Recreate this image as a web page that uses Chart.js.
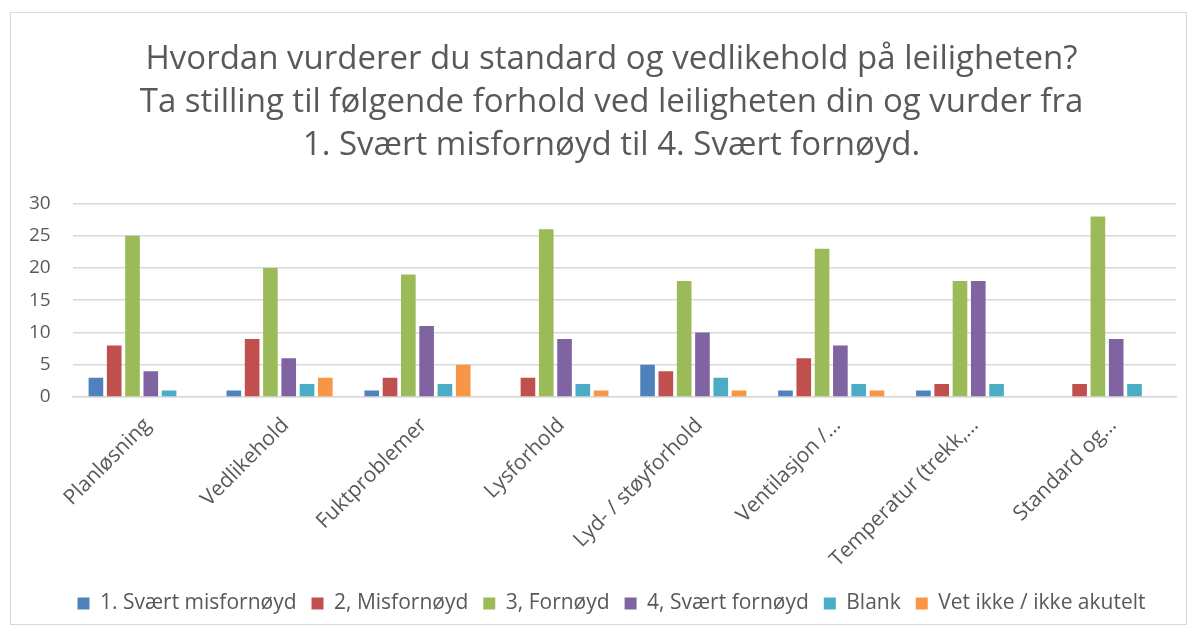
<!DOCTYPE html>
<html>
<head>
<meta charset="utf-8">
<script src="https://cdn.jsdelivr.net/npm/chart.js@4"></script>
<style>
  html, body { margin: 0; padding: 0; background: #fff; overflow: hidden; }
  #boks { position: absolute; left: 10px; top: 12px; width: 1177px; height: 613px; border: 1px solid #d9d9d9; box-sizing: border-box; overflow: hidden; }
  #graf { position: absolute; left: 0; top: 0; }
</style>
</head>
<body>
<div id="boks"><canvas id="graf" width="1201" height="611" style="width:1201px;height:611px"></canvas></div>
<script>
// Data fra undersøkelsen
const kategorier = ["Planløsning", "Vedlikehold", "Fuktproblemer", "Lysforhold", "Lyd- / støyforhold", "Ventilasjon /…", "Temperatur (trekk,…", "Standard og…"];
const svaertMisfornoyd = [3, 1, 1, 0, 5, 1, 1, 0];
const misfornoyd = [8, 9, 3, 3, 4, 6, 2, 2];
const fornoyd = [25, 20, 19, 26, 18, 23, 18, 28];
const svaertFornoyd = [4, 6, 11, 9, 10, 8, 18, 9];
const blank = [1, 2, 2, 2, 3, 2, 2, 2];
const vetIkke = [0, 3, 5, 1, 1, 1, 0, 0];
const yTicks = [0, 5, 10, 15, 20, 25, 30];

const tittel = [
    "Hvordan vurderer du standard og vedlikehold på leiligheten?",
    "Ta stilling til følgende forhold ved leiligheten din og vurder fra",
    "1. Svært misfornøyd til 4. Svært fornøyd."
];

const grå = "#595959";
const font = "'Open Sans', sans-serif";

function serie(navn, verdier, farge) {
    return {
        label: navn,
        data: verdier,
        backgroundColor: farge,
        borderWidth: 0,
        categoryPercentage: 0.796,
        barPercentage: 0.8
    };
}

const ctx = document.getElementById("graf").getContext("2d");
const graf = new Chart(ctx, {
    type: "bar",
    data: {
        labels: kategorier,
        datasets: [
            serie("1. Svært misfornøyd", svaertMisfornoyd, "#4f81bd"),
            serie("2, Misfornøyd", misfornoyd, "#c0504d"),
            serie("3, Fornøyd", fornoyd, "#9bbb59"),
            serie("4, Svært fornøyd", svaertFornoyd, "#8064a2"),
            serie("Blank", blank, "#4bacc6"),
            serie("Vet ikke / ikke akutelt", vetIkke, "#f79646"),
        ],
    },
    options: {
        responsive: false,
        animation: false,
        layout: { padding: { left: 0, right: 0, top: 14, bottom: 0 } },
        plugins: {
            title: {
                display: true,
                text: tittel,
                color: grå,
                font: { family: font, size: 33, weight: "normal", lineHeight: 1.303 },
                padding: { top: 11.5, bottom: 36 }
            },
            legend: {
                position: "bottom",
                labels: {
                    color: grå,
                    font: { family: font, size: 21 },
                    boxWidth: 12,
                    boxHeight: 12,
                    padding: 15
                }
            },
            tooltip: { enabled: false }
        },
        scales: {
            y: {
                min: 0,
                max: 30,
                afterBuildTicks: function(s) { s.ticks = yTicks.map(v => ({ value: v })); },
                afterFit: function(s) { s.width = 61.7; },
                border: { display: false },
                grid: { color: "#d9d9d9", lineWidth: 1.5, drawTicks: false },
                ticks: { color: grå, font: { family: font, size: 19 }, padding: 22 }
            },
            hoyre: {
                position: "right",
                afterFit: function(s) { s.width = 36; },
                border: { display: false },
                grid: { display: false },
                ticks: { display: false }
            },
            x: {
                afterFit: function(s) { s.height = 181; },
                border: { color: "#d9d9d9", width: 1.5 },
                grid: { display: false },
                ticks: {
                    color: grå,
                    font: { family: font, size: 21 },
                    minRotation: 45,
                    maxRotation: 45,
                    autoSkip: false,
                    labelOffset: 6,
                    padding: 8
                }
            }
        }
    }
});
</script>
</body>
</html>
